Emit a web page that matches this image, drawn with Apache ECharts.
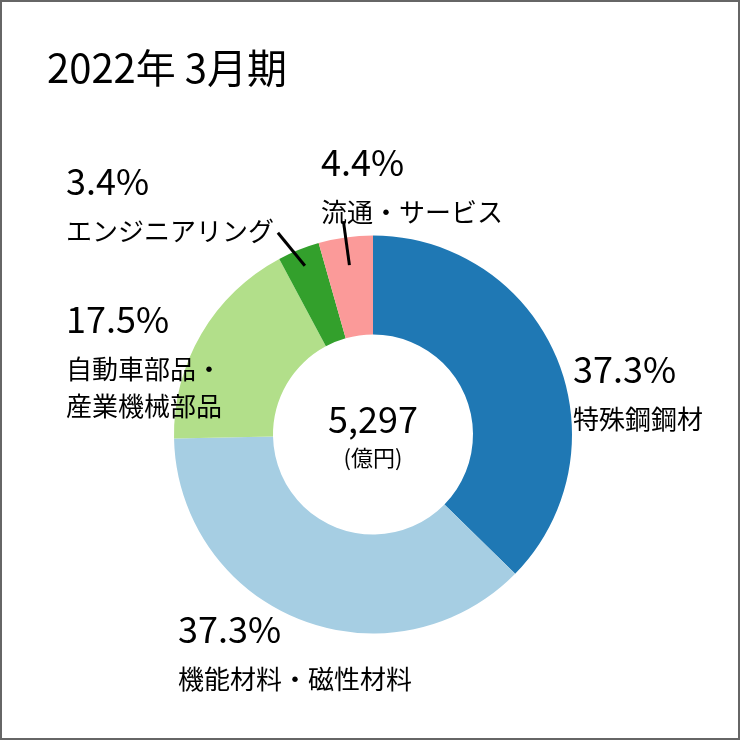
<!DOCTYPE html>
<html>
<head>
<meta charset="utf-8">
<script src="https://cdn.jsdelivr.net/npm/echarts@6/dist/echarts.min.js"></script>
<style>
  html, body { margin: 0; padding: 0; background: #fff; }
  #chart { width: 740px; height: 740px; }
</style>
</head>
<body>
<div id="chart"></div>
<script>
// ---- data ----
const titleText = '2022年 3月期';
const categories = ['特殊鋼鋼材', '機能材料・磁性材料', '自動車部品・\n産業機械部品', 'エンジニアリング', '流通・サービス'];
const shares = [37.3, 37.3, 17.5, 3.4, 4.4];
const totalValue = '5,297';
const totalUnit = '(億円)';

// ---- style / layout ----
const colors = ['#1f78b4', '#a6cee3', '#b2df8a', '#33a02c', '#fb9a99'];
const FONT = '"Noto Sans CJK JP", "Noto Sans", sans-serif';
const CX = 373, CY = 434.5, R_IN = 100, R_OUT = 199;
const labelAnchors = [[573, 337], [178, 597], [66, 287], [66, 149], [321, 130]];
const leaders = { 3: { r: 182, dx: -27, dy: -33 }, 4: { r: 171, dx: -6, dy: -44 } };

const total = shares.reduce((a, b) => a + b, 0);
const midAngles = [];
{
  let acc = 0;
  shares.forEach(v => { midAngles.push((acc + v / 2) / total * 2 * Math.PI); acc += v; });
}

const leaderGraphics = Object.keys(leaders).map(k => {
  const L = leaders[k];
  const th = midAngles[+k];
  const x0 = CX + L.r * Math.sin(th), y0 = CY - L.r * Math.cos(th);
  return {
    type: 'line', z: 100, silent: true,
    shape: { x1: x0, y1: y0, x2: x0 + L.dx, y2: y0 + L.dy },
    style: { stroke: '#000', lineWidth: 3 }
  };
});

const chart = echarts.init(document.getElementById('chart'));
chart.setOption({
  animation: false,
  title: {
    text: titleText, left: 42, top: 43,
    textStyle: { fontFamily: FONT, fontSize: 40, fontWeight: 'normal', color: '#000', lineHeight: 40 }
  },
  graphic: [
    { type: 'rect', shape: { x: 1, y: 1, width: 738, height: 738 }, style: { fill: 'none', stroke: '#666', lineWidth: 2 }, silent: true },
    { type: 'text', x: CX, y: 401, style: { text: totalValue, fontFamily: FONT, fontSize: 36, fill: '#000', align: 'center', verticalAlign: 'top' } },
    { type: 'text', x: CX, y: 447, style: { text: totalUnit, fontFamily: FONT, fontSize: 22, fill: '#000', align: 'center', verticalAlign: 'top' } }
  ].concat(leaderGraphics),
  series: [{
    type: 'pie',
    center: [CX, CY],
    radius: [R_IN, R_OUT],
    startAngle: 90,
    clockwise: true,
    avoidLabelOverlap: false,
    emphasis: { disabled: true },
    itemStyle: { borderWidth: 0 },
    label: {
      show: true,
      position: 'outside',
      fontFamily: FONT,
      color: '#000',
      formatter: p => {
        const i = p.dataIndex;
        const nameLines = categories[i].split('\n').map(s => '{n|' + s + '}').join('\n');
        return '{p|' + shares[i].toFixed(1) + '%}\n' + nameLines;
      },
      rich: {
        p: { fontFamily: FONT, fontSize: 36, lineHeight: 64, color: '#000' },
        n: { fontFamily: FONT, fontSize: 26, lineHeight: 37, color: '#000' }
      }
    },
    labelLine: { show: false },
    labelLayout: params => {
      const a = labelAnchors[params.dataIndex];
      return { x: a[0], y: a[1], align: 'left', verticalAlign: 'top' };
    },
    data: categories.map((c, i) => ({
      name: c,
      value: shares[i],
      itemStyle: { color: colors[i] }
    }))
  }]
});
</script>
</body>
</html>
